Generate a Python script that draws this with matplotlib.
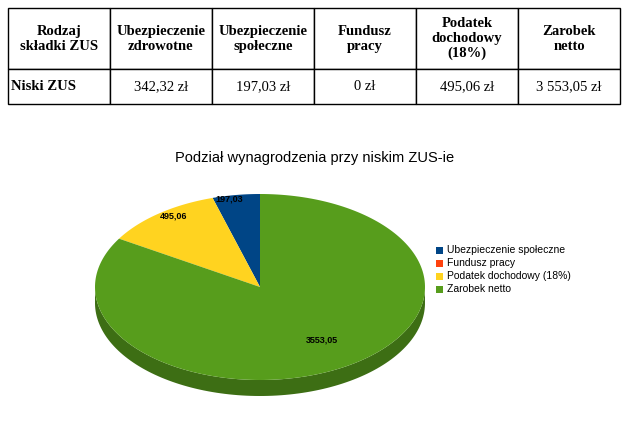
import numpy as np
import matplotlib.pyplot as plt
from matplotlib.patches import Polygon

# Dane tabeli
naglowki = ["Rodzaj\nskładki ZUS", "Ubezpieczenie\nzdrowotne", "Ubezpieczenie\nspołeczne",
            "Fundusz\npracy", "Podatek\ndochodowy\n(18%)", "Zarobek\nnetto"]
wiersz = ["Niski ZUS", "342,32 zł", "197,03 zł", "0 zł", "495,06 zł", "3 553,05 zł"]

# Dane wykresu
kategorie = ["Ubezpieczenie społeczne", "Fundusz pracy", "Podatek dochodowy (18%)", "Zarobek netto"]
wartosci = [197.03, 0.0, 495.06, 3553.05]
etykiety = ["197,03", "", "495,06", "3553,05"]
kolory = ["#004586", "#ff420e", "#ffd320", "#579d1c"]

fig = plt.figure(figsize=(6.27, 4.38), dpi=100)
ax = fig.add_axes([0, 0, 1, 1])
ax.set_xlim(0, 627)
ax.set_ylim(438, 0)
ax.axis("off")

# Tabela
tab = ax.table(cellText=[naglowki, wiersz], cellLoc="center",
               bbox=[8 / 627, 1 - 104 / 438, 612 / 627, 96 / 438])
tab.auto_set_font_size(False)
for (r, c), cell in tab.get_celld().items():
    cell.set_height(0.64 if r == 0 else 0.36)
    cell.get_text().set_fontfamily("Liberation Serif")
    cell.get_text().set_fontsize(10.5)
    if r == 0 or c == 0:
        cell.get_text().set_fontweight("bold")
    if c == 0 and r == 1:
        cell.get_text().set_ha("left")
        cell.PAD = 0.03

ax.text(315, 158, "Podział wynagrodzenia przy niskim ZUS-ie", ha="center", va="center",
        fontsize=10.5, fontfamily="Liberation Sans")

# Wykres kołowy 3D
cx, cy, rx, ry, h = 260, 287, 165, 93, 16
suma = sum(wartosci)
kat = 90.0
katy = []
for w in wartosci:
    k2 = kat + 360 * w / suma
    katy.append((kat, k2))
    kat = k2


def ciemniej(c, f=0.7):
    c = np.array(plt.matplotlib.colors.to_rgb(c))
    return tuple(c * f)


# boki
for (a1, a2), kol in zip(katy, kolory):
    if a2 - a1 <= 0:
        continue
    t = np.radians(np.linspace(a1, a2, 200))
    t = t[np.sin(t) <= 0.001]
    if len(t) < 2:
        continue
    x = cx + rx * np.cos(t)
    y = cy - ry * np.sin(t)
    pts = np.vstack([np.column_stack([x, y]), np.column_stack([x[::-1], y[::-1] + h])])
    ax.add_patch(Polygon(pts, closed=True, fc=ciemniej(kol), ec="none"))

# góra
for (a1, a2), kol in zip(katy, kolory):
    if a2 - a1 <= 0:
        continue
    t = np.radians(np.linspace(a1, a2, 200))
    pts = np.vstack([[cx, cy], np.column_stack([cx + rx * np.cos(t), cy - ry * np.sin(t)])])
    ax.add_patch(Polygon(pts, closed=True, fc=kol, ec="none"))

pozycje = [(229, 199), None, (174, 216), (322, 340)]
for e, p in zip(etykiety, pozycje):
    if p:
        ax.text(p[0], p[1], e, ha="center", va="center", fontsize=6.5, fontweight="bold",
                fontfamily="Liberation Sans")

# legenda
for i, (k, kol) in enumerate(zip(kategorie, kolory)):
    y = 250 + i * 13
    ax.add_patch(plt.Rectangle((436, y - 3.5), 7, 7, fc=kol, ec="none"))
    ax.text(447, y, k, va="center", fontsize=7.5, fontfamily="Liberation Sans")

fig.savefig("out.png", dpi=100)
